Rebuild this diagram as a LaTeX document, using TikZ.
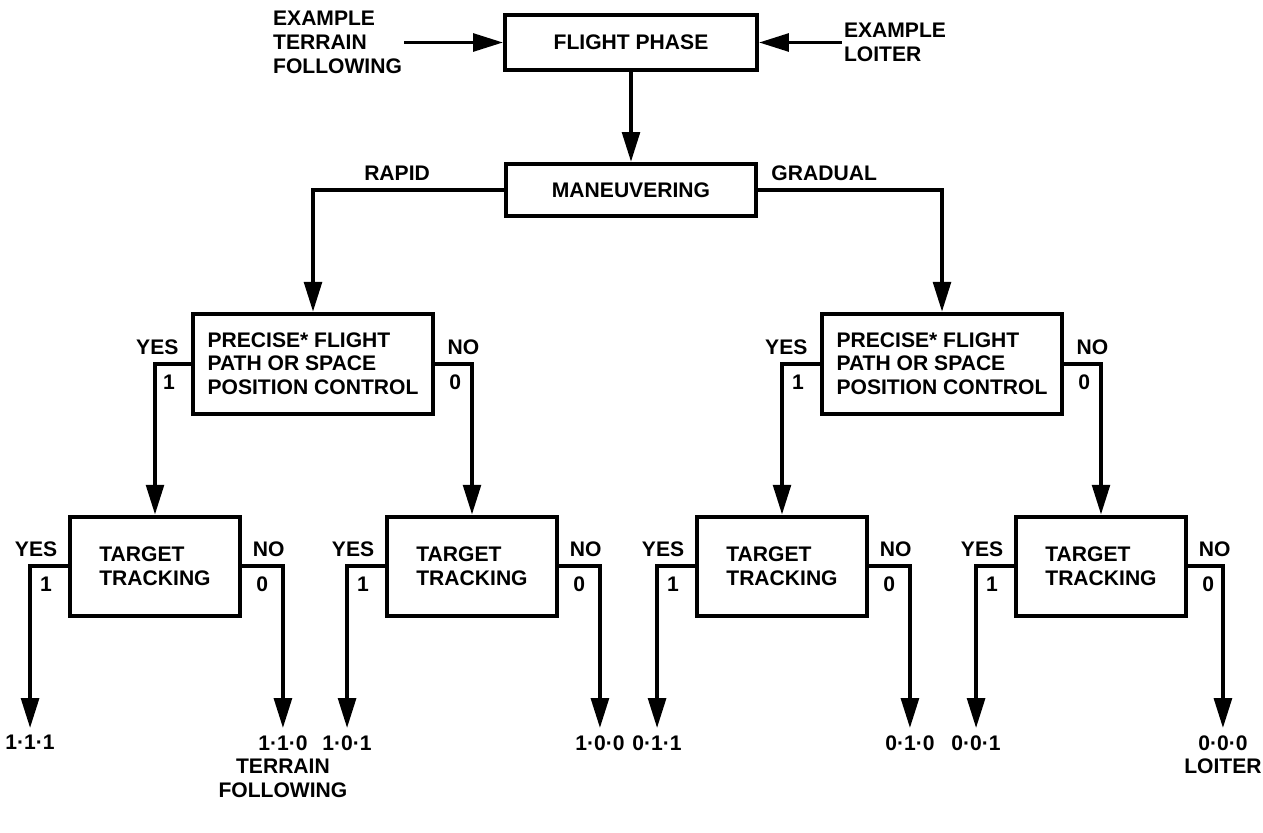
\documentclass[tikz,border=0pt]{standalone}
\usepackage{fontspec}
\setmainfont{Liberation Sans}
\usepackage{tikz}
\usetikzlibrary{arrows.meta,positioning,calc}

\begin{document}
\begin{tikzpicture}[node distance=5mm, font=\fontsize{12}{13.5}\selectfont\bfseries, >={Triangle[length=17pt, width=10pt]}]
\tikzset{
  base/.style={draw, line width=2.2pt, align=center},
  phasebox/.style={base, minimum width=5.04cm, minimum height=1.1cm},
  manbox/.style={base, minimum width=5cm, minimum height=1.04cm},
  precbox/.style={base, align=left, minimum width=4.8cm, minimum height=2cm},
  trackbox/.style={base, align=left, minimum width=3.4cm, minimum height=1.98cm},
  lbl/.style={inner sep=1pt, align=center},
  arrow/.style={->, line width=2.2pt},
}

\useasboundingbox (0,0) rectangle (25.26,-16.66);

% Flight phase and examples
\node (phase) [phasebox] at (12.62,-0.85) {FLIGHT PHASE};
\node (exterr) [lbl, align=left, left=1.98cm of phase] {EXAMPLE\\TERRAIN\\FOLLOWING};
\node (exloit) [lbl, align=left, right=1.66cm of phase] {EXAMPLE\\LOITER};
\draw[arrow] (exterr) -- (phase);
\draw[arrow] (exloit) -- (phase);

% Maneuvering
\node (maneuv) [manbox, below=1.8cm of phase] {MANEUVERING};
\draw[arrow] (phase) -- (maneuv);

% Precise control
\node (prec1) [precbox, below=1.88cm of maneuv, xshift=-6.36cm] {PRECISE* FLIGHT\\PATH OR SPACE\\POSITION CONTROL};
\node (prec2) [precbox, below=1.88cm of maneuv, xshift=6.22cm] {PRECISE* FLIGHT\\PATH OR SPACE\\POSITION CONTROL};
\draw[arrow] (maneuv.west) -| node[lbl, pos=0.28, above=3pt] {RAPID} (prec1.north);
\draw[arrow] (maneuv.east) -| node[lbl, pos=0.18, above=3pt] {GRADUAL} (prec2.north);

% Target tracking
\node (tt1) [trackbox, below=1.98cm of prec1, xshift=-3.16cm] {TARGET\\TRACKING};
\node (tt2) [trackbox, below=1.98cm of prec1, xshift=3.18cm] {TARGET\\TRACKING};
\node (tt3) [trackbox, below=1.98cm of prec2, xshift=-3.2cm] {TARGET\\TRACKING};
\node (tt4) [trackbox, below=1.98cm of prec2, xshift=3.18cm] {TARGET\\TRACKING};

\foreach \p/\l/\r in {prec1/tt1/tt2, prec2/tt3/tt4}{
  \draw[arrow] (\p.west) -| (\l.north);
  \draw[arrow] (\p.east) -| (\r.north);
  \node[lbl, above left=4pt and 6pt of \p.west] {YES};
  \node[lbl, below left=5pt and 8pt of \p.west] {1};
  \node[lbl, above right=4pt and 6pt of \p.east] {NO};
  \node[lbl, below right=5pt and 7pt of \p.east] {0};
}

% Outcomes
\foreach \t/\y/\n/\d in {tt1/1·1·1/1·1·0\\TERRAIN\\FOLLOWING/0.82, tt2/1·0·1/1·0·0/0.82, tt3/0·1·1/0·1·0/0.82, tt4/0·0·1/0·0·0\\LOITER/0.7}{
  \coordinate[below left=3.24cm and 0.76cm of \t.west] (\t yes);
  \coordinate[below right=3.24cm and \d cm of \t.east] (\t no);
  \draw[arrow] (\t.west) -| (\t yes);
  \draw[arrow] (\t.east) -| (\t no);
  \node[lbl, above left=4pt and 5pt of \t.west] {YES};
  \node[lbl, below left=5pt and 8pt of \t.west] {1};
  \node[lbl, above right=4pt and 5pt of \t.east] {NO};
  \node[lbl, below right=5pt and 7pt of \t.east] {0};
  \node[lbl, below=3pt of \t yes] {\y};
  \node[lbl, below=3pt of \t no] {\n};
}

\end{tikzpicture}
\end{document}
